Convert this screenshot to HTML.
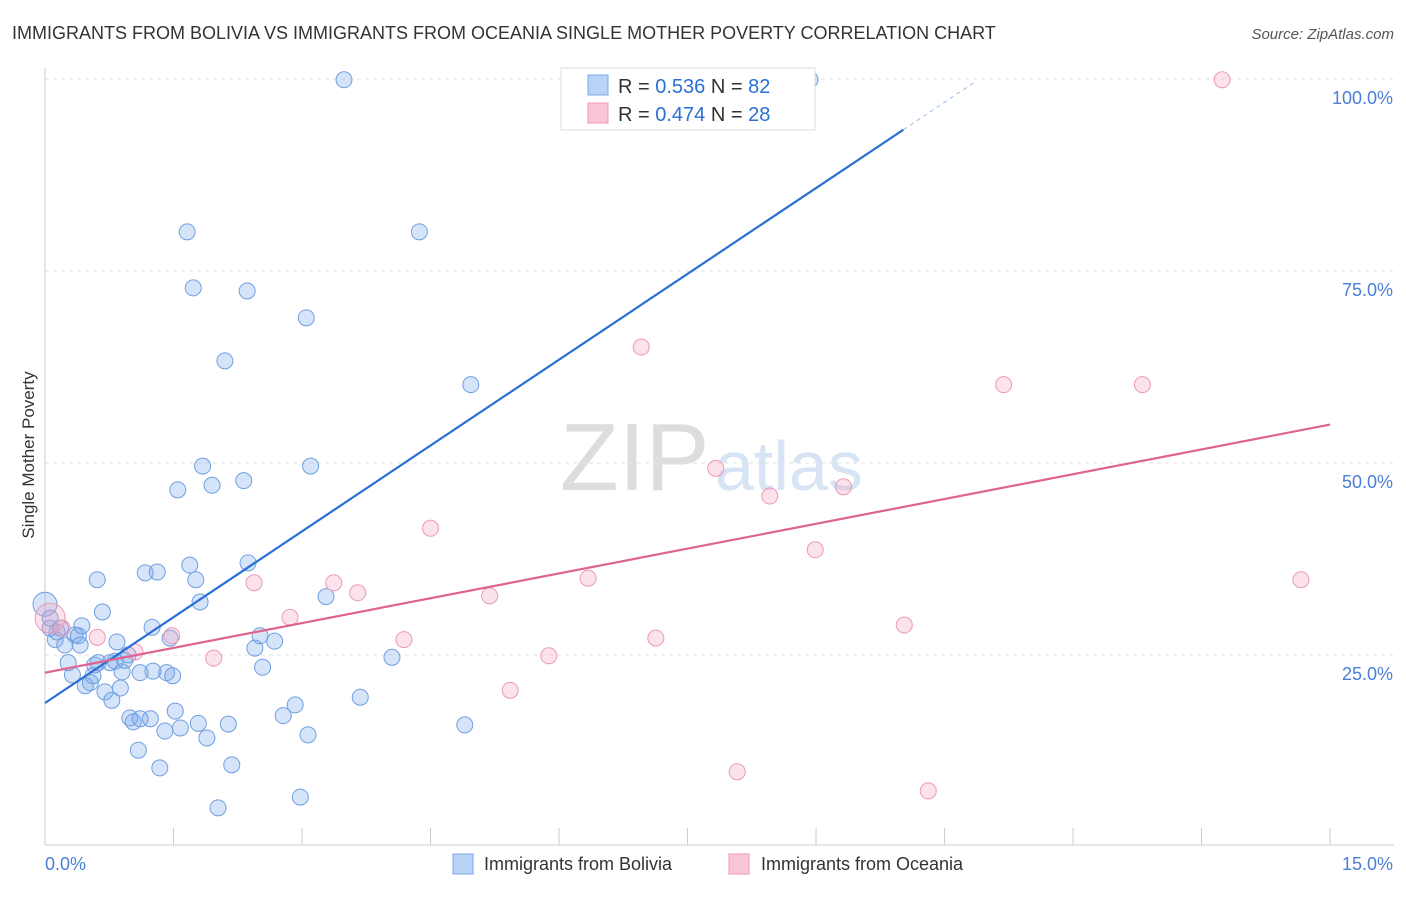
<!DOCTYPE html>
<html><head><meta charset="utf-8"><style>
body{margin:0;background:#fff;font-family:"Liberation Sans",sans-serif;}
svg text{font-family:"Liberation Sans",sans-serif;}
</style></head><body>
<svg id="c" width="1406" height="892">
<text x="12" y="39" font-size="18" fill="#333">IMMIGRANTS FROM BOLIVIA VS IMMIGRANTS FROM OCEANIA SINGLE MOTHER POVERTY CORRELATION CHART</text>
<text x="1394" y="39" font-size="15" fill="#555" text-anchor="end" font-style="italic">Source: ZipAtlas.com</text>
<text x="34" y="455" font-size="17" fill="#333" text-anchor="middle" transform="rotate(-90 34 455)">Single Mother Poverty</text>
<text x="560" y="490" font-size="96" fill="#ddd" font-family="Liberation Serif">ZIP</text>
<text x="715" y="490" font-size="70" fill="#d6e4f5">atlas</text>
<g id="grid"></g><g id="pts"></g><g id="lines"></g>
<g>
<rect x="561" y="68" width="254" height="62" fill="#fff" stroke="#ddd"/>
<rect x="588" y="75" width="20" height="20" fill="#b8d3f5" stroke="#7aa8e8"/>
<rect x="588" y="103" width="20" height="20" fill="#f9c6d6" stroke="#ee9ab5"/>
<text x="618" y="93" font-size="20" fill="#333">R = <tspan fill="#2a6fd6">0.536</tspan>   N = <tspan fill="#2a6fd6">82</tspan></text>
<text x="618" y="121" font-size="20" fill="#333">R = <tspan fill="#2a6fd6">0.474</tspan>   N = <tspan fill="#2a6fd6">28</tspan></text>
</g>
<g>
<rect x="453" y="854" width="20" height="20" fill="#b8d3f5" stroke="#7aa8e8"/>
<text x="484" y="870" font-size="18" fill="#333">Immigrants from Bolivia</text>
<rect x="729" y="854" width="20" height="20" fill="#f9c6d6" stroke="#ee9ab5"/>
<text x="761" y="870" font-size="18" fill="#333">Immigrants from Oceania</text>
</g>
</svg>
<script>
const xTicks=[0,1.5,3,4.5,6,7.5,9,10.5,12,13.5,15];
const yTicks=[25,50,75,100];
const yTickLabels=["25.0%","50.0%","75.0%","100.0%"];
const boliviaX=[0,.06,.12,.18,.23,.27,.32,.35,.39,.41,.43,.47,.53,.56,.61,.62,.67,.70,.76,.78,.82,.84,.88,.90,.97,.99,1.03,1.09,1.11,1.17,1.23,1.25,1.26,1.31,1.34,1.40,1.42,1.46,1.49,1.52,1.55,1.58,1.66,1.69,1.73,1.76,1.79,1.81,1.84,1.89,1.95,2.02,2.10,2.14,2.18,2.32,2.36,2.37,2.45,2.51,2.54,2.68,2.78,2.92,2.98,3.05,3.07,3.10,3.28,3.49,3.68,4.05,4.37,4.90,4.97,6.45,8.93,.06,.14,.58,.93,1.11];
const boliviaY=[31.6,29.8,27.0,28.5,26.3,24.0,22.4,27.6,27.5,26.3,28.8,21.0,21.4,22.3,34.8,24.0,30.6,20.2,24.0,19.1,24.2,26.7,20.7,22.8,25.0,16.8,16.3,12.6,22.7,35.7,16.7,28.6,22.9,35.8,10.3,15.1,22.7,27.2,22.3,17.7,46.5,15.5,80.1,36.7,72.8,34.8,16.1,31.9,49.6,14.2,47.1,5.1,63.3,16.0,10.7,47.7,72.4,37.0,25.9,27.5,23.4,26.8,17.1,18.5,6.5,68.9,14.6,49.6,32.6,99.9,19.5,24.7,80.1,15.9,60.2,99.5,99.9,28.5,28.0,23.7,24.3,16.7];
const oceaniaX=[.06,.20,.61,1.05,1.48,1.97,2.44,2.86,3.37,3.65,4.19,4.50,5.19,5.43,5.88,6.34,6.96,7.13,7.83,8.08,8.46,8.99,9.32,10.03,10.31,11.19,12.81,13.74,14.66];
const oceaniaY=[29.8,28.5,27.3,25.4,27.5,24.6,34.4,29.9,34.4,33.1,27.0,41.5,32.7,20.4,24.9,35.0,65.1,27.2,49.3,9.8,45.7,38.7,46.9,28.9,7.3,60.2,60.2,99.9,34.8];
const blueLine=[18.75,0.536], pinkLine=[22.7,55.0];
const NS="http://www.w3.org/2000/svg";
const X=v=>45+v*85.67, Y=v=>847-v*7.68;
function mk(t,a,p){const e=document.createElementNS(NS,t);for(const k in a)e.setAttribute(k,a[k]);p.appendChild(e);return e;}
const g=document.getElementById('grid');
yTicks.forEach((t,i)=>{const l=mk('line',{x1:45,x2:1394,y1:Y(t),y2:Y(t),stroke:'#e2e2e2','stroke-dasharray':'4,4'},g);

const tx=mk('text',{x:1393,y:Y(t)+25,'font-size':18,fill:'#4a7fd4','text-anchor':'end'},g);tx.textContent=yTickLabels[i];
});
const ax=mk('line',{x1:45,x2:1394,y1:845,y2:845,stroke:'#ccc'},g);

const ay=mk('line',{x1:45,x2:45,y1:68,y2:845,stroke:'#ccc'},g);

xTicks.forEach(t=>{const l=mk('line',{x1:X(t),x2:X(t),y1:828,y2:845,stroke:'#ccc'},g);
});
const t0=mk('text',{x:45,y:870,'font-size':18,fill:'#4a7fd4'},g);t0.textContent='0.0%';

const t1=mk('text',{x:1393,y:870,'font-size':18,fill:'#4a7fd4','text-anchor':'end'},g);t1.textContent='15.0%';

const P=document.getElementById('pts');
boliviaX.forEach((x,i)=>{const c=mk('circle',{cx:X(x),cy:Y(boliviaY[i]),r:i==0?12:8,fill:'rgba(120,165,235,0.3)',stroke:'#6f9fe0','stroke-width':1},P);
});
oceaniaX.forEach((x,i)=>{const c=mk('circle',{cx:X(x),cy:Y(oceaniaY[i]),r:i==0?15:8,fill:'rgba(245,160,190,0.3)',stroke:'#eb9ab5','stroke-width':1},P);
});
const L=document.getElementById('lines');
const bs=(93.4-blueLine[0])/10.02;
const bl=mk('line',{x1:X(0),y1:Y(blueLine[0]),x2:X(10.02),y2:Y(blueLine[0]+bs*10.02),stroke:'#2a6fd6','stroke-width':2.2},L);

const bd=mk('line',{x1:X(10.02),y1:Y(blueLine[0]+bs*10.02),x2:X(10.86),y2:Y(blueLine[0]+bs*10.86),stroke:'#9bbbe8','stroke-width':1,'stroke-dasharray':'4,4'},L);

const pl=mk('line',{x1:X(0),y1:Y(pinkLine[0]),x2:X(15),y2:Y(pinkLine[1]),stroke:'#e0628f','stroke-width':2.2},L);

</script>
</body></html>
